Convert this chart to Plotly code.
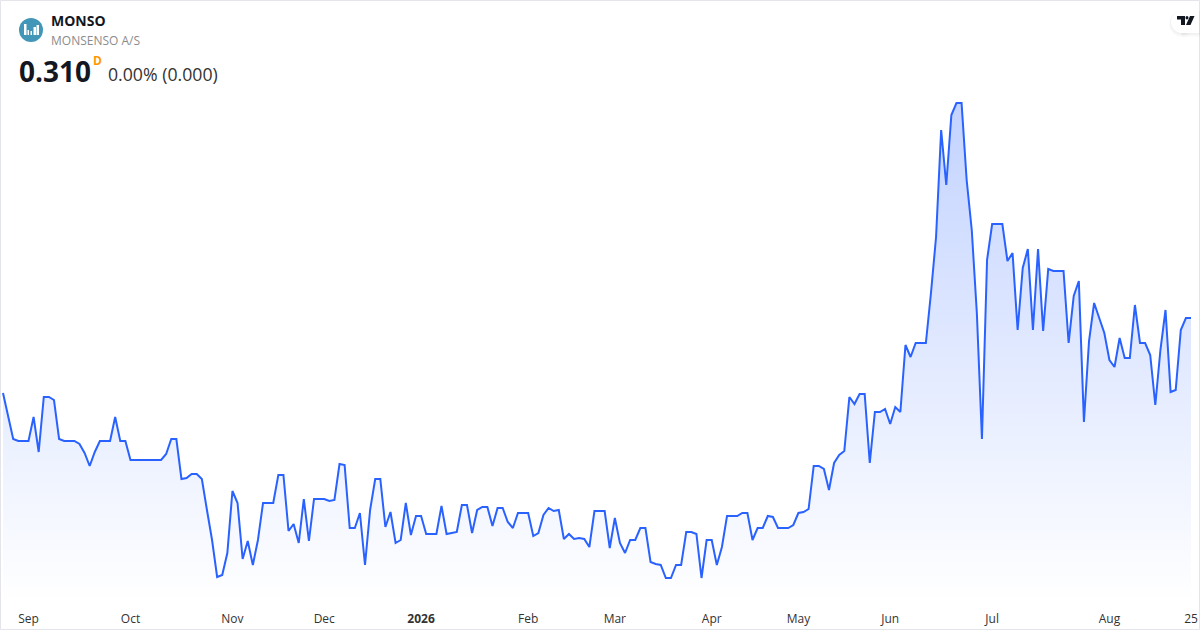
import plotly.graph_objects as go

# closing prices, last value anchored on the 0.310 quote
close = [
    0.235, 0.2115, 0.189, 0.187, 0.187, 0.187, 0.211, 0.176, 0.231, 0.231,
    0.228, 0.189, 0.187, 0.187, 0.187, 0.184, 0.175, 0.162, 0.176, 0.187,
    0.187, 0.187, 0.211, 0.187, 0.187, 0.168, 0.168, 0.168, 0.168, 0.168,
    0.168, 0.168, 0.174, 0.189, 0.189, 0.149, 0.150, 0.154, 0.154, 0.149,
    0.118, 0.088, 0.051, 0.053, 0.075, 0.137, 0.125, 0.069, 0.087, 0.063,
    0.088, 0.125, 0.125, 0.125, 0.153, 0.153, 0.097, 0.104, 0.085,
    0.129, 0.087, 0.129, 0.129, 0.129, 0.127, 0.128, 0.164, 0.163, 0.100,
    0.100, 0.115, 0.063, 0.118, 0.149, 0.149, 0.101, 0.116, 0.085, 0.088,
    0.125, 0.093, 0.112, 0.112, 0.094, 0.094, 0.094, 0.122, 0.094, 0.095,
    0.096, 0.123, 0.123, 0.095, 0.118, 0.121, 0.121, 0.102, 0.120, 0.120,
    0.106, 0.100, 0.115, 0.115, 0.115, 0.092, 0.095, 0.113, 0.120, 0.117,
    0.118, 0.089, 0.094, 0.089, 0.090, 0.089, 0.081, 0.117, 0.117,
    0.117, 0.080, 0.110, 0.085, 0.075, 0.088, 0.088, 0.100, 0.100, 0.066,
    0.064, 0.063, 0.050, 0.050, 0.063, 0.063, 0.096, 0.096, 0.094, 0.050,
    0.088, 0.088, 0.063, 0.081, 0.112, 0.112, 0.112, 0.115, 0.115, 0.088,
    0.100, 0.100, 0.112, 0.111, 0.100, 0.100, 0.100, 0.103, 0.115, 0.116,
    0.119, 0.162, 0.162, 0.159, 0.138, 0.165, 0.173, 0.177, 0.231, 0.224,
    0.234, 0.234, 0.165, 0.216, 0.216, 0.219, 0.204, 0.221, 0.216,
    0.283, 0.271, 0.285, 0.285, 0.285, 0.335, 0.391, 0.498, 0.443, 0.513,
    0.525, 0.525, 0.448, 0.398, 0.315, 0.189, 0.368, 0.404, 0.404, 0.404,
    0.367, 0.375, 0.298, 0.360, 0.379, 0.298, 0.379,
    0.297, 0.359, 0.357, 0.357, 0.357, 0.285, 0.332, 0.347, 0.206, 0.287,
    0.325, 0.310, 0.295, 0.268, 0.261, 0.290, 0.270, 0.270, 0.323, 0.285,
    0.285, 0.273, 0.223, 0.278, 0.318, 0.236, 0.238, 0.298, 0.310, 0.310,
]
tick_idx = [5, 25, 45, 63, 82, 103, 120, 139, 156, 174, 194, 217, 233]
tick_labels = ["Sep", "Oct", "Nov", "Dec", "<b>2026</b>", "Feb", "Mar", "Apr", "May", "Jun", "Jul", "Aug", "25"]

W, H = 1200, 630
PLOT_BOTTOM = 603
STEP = 1188 / (len(close) - 1)


def px(x):
    return x / W


def py(y):
    return 1 - y / PLOT_BOTTOM


def path(points):
    return "M" + " L".join(f"{px(x)},{py(y)}" for x, y in points) + " Z"


fig = go.Figure()
fig.add_trace(go.Scatter(
    x=list(range(len(close))), y=close, mode="lines",
    line=dict(color="#2962ff", width=2),
    fill="tozeroy",
    fillgradient=dict(
        type="vertical", start=0.526, stop=0.025,
        colorscale=[[0, "rgba(41,98,255,0.28)"], [1, "rgba(41,98,255,0)"]],
    ),
    hoverinfo="skip", showlegend=False,
))


def rect(x0, y0, x1, y1, color, **kw):
    return dict(type="rect", xref="paper", yref="paper", x0=px(x0), x1=px(x1),
                y0=py(y0), y1=py(y1), fillcolor=color, line_width=0, layer="above", **kw)


def circle(x0, y0, x1, y1, color):
    return dict(type="circle", xref="paper", yref="paper", x0=px(x0), x1=px(x1),
                y0=py(y0), y1=py(y1), fillcolor=color, line_width=0, layer="above")


def poly(points, color):
    return dict(type="path", xref="paper", yref="paper", path=path(points),
                fillcolor=color, line_width=0, layer="above")


shapes = [
    # card border
    dict(type="rect", xref="paper", yref="paper", x0=px(0.5), x1=px(1199.5), y0=py(0.5), y1=py(629.5),
         line=dict(color="#e3e5ea", width=1), fillcolor="rgba(0,0,0,0)", layer="above"),
    # symbol logo
    circle(19, 18, 43, 42, "#4297b8"),
    rect(24, 24, 26.5, 35, "white"),
    rect(27.5, 30, 29, 35, "white"),
    rect(30.5, 31, 32, 35, "white"),
    rect(33.5, 27, 36, 35, "white"),
    rect(36.5, 25, 39, 35, "white"),
    # tradingview badge, soft shadow then the white pill
    circle(1169, 11, 1195, 37, "rgba(0,0,0,0.02)"),
    rect(1182, 11, 1200, 37, "rgba(0,0,0,0.02)"),
    circle(1170, 11, 1193, 35, "rgba(0,0,0,0.03)"),
    rect(1181, 11, 1200, 35, "rgba(0,0,0,0.03)"),
    circle(1171, 11, 1193, 33, "white"),
    rect(1182, 11, 1199, 33, "white"),
    poly([(1177, 16), (1185, 16), (1185, 25), (1181, 25), (1181, 19.5), (1177, 19.5)], "#131722"),
    circle(1185.5, 16, 1188.5, 19.5, "#131722"),
    poly([(1190, 16), (1194.5, 16), (1190.5, 25), (1186, 25)], "#131722"),
]

text_font = "Open Sans"
annotations = [
    dict(text="<b>MONSO</b>", x=49, y=21, size=14, color="#131722"),
    dict(text="MONSENSO A/S", x=49, y=40.5, size=12, color="#8c8c8c"),
    dict(text="<b>0.310</b>", x=17, y=71, size=28, color="#131722"),
    dict(text="<b>D</b>", x=91, y=61, size=12, color="#ff9800"),
    dict(text="0.00% (0.000)", x=106, y=74, size=17.7, color="#333333"),
]

fig.update_layout(
    width=W, height=H,
    margin=dict(l=0, r=0, t=0, b=H - PLOT_BOTTOM, pad=0),
    paper_bgcolor="white", plot_bgcolor="white",
    xaxis=dict(
        range=[-3 / STEP, (W - 3) / STEP], tickmode="array",
        tickvals=tick_idx, ticktext=tick_labels, showgrid=False, zeroline=False,
        showline=False, ticks="outside", ticklen=5, tickcolor="rgba(0,0,0,0)",
        tickfont=dict(family=text_font, size=12, color="#333333"), fixedrange=True,
    ),
    yaxis=dict(range=[(628 - PLOT_BOTTOM) / 1000, 0.628], visible=False, fixedrange=True),
    shapes=shapes,
    annotations=[
        dict(text=a["text"], xref="paper", yref="paper", x=px(a["x"]), y=py(a["y"]),
             xanchor="left", yanchor="middle", showarrow=False,
             font=dict(family=text_font, size=a["size"], color=a["color"]))
        for a in annotations
    ],
)

fig.write_html("out.html", config=dict(displayModeBar=False),
               post_script="document.body.style.margin='0';document.body.style.overflow='hidden';")
